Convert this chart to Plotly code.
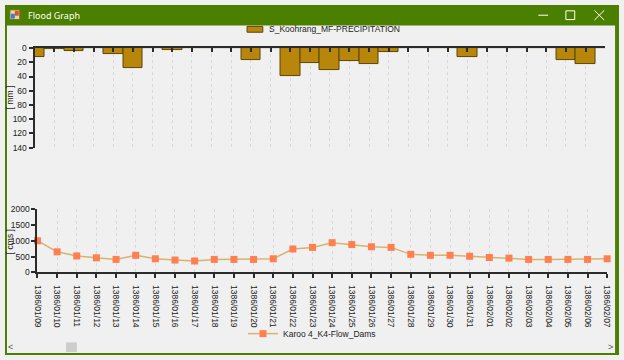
import plotly.graph_objects as go

dates = ["1386/01/09", "1386/01/10", "1386/01/11", "1386/01/12", "1386/01/13",
         "1386/01/14", "1386/01/15", "1386/01/16", "1386/01/17", "1386/01/18",
         "1386/01/19", "1386/01/20", "1386/01/21", "1386/01/22", "1386/01/23",
         "1386/01/24", "1386/01/25", "1386/01/26", "1386/01/27", "1386/01/28",
         "1386/01/29", "1386/01/30", "1386/01/31", "1386/02/01", "1386/02/02",
         "1386/02/03", "1386/02/04", "1386/02/05", "1386/02/06", "1386/02/07"]
precip = [13, 2, 4, 0, 9, 28, 0, 3, 0, 0, 0, 17, 0, 39, 21, 31, 18, 23, 6, 0,
          0, 0, 13, 0, 0, 0, 0, 17, 23, 0]
flow = [1000, 650, 520, 460, 410, 540, 430, 390, 360, 410, 410, 410, 430, 740, 790,
        940, 880, 810, 790, 570, 540, 540, 510, 470, 450, 410, 410, 410, 410, 430]
precip_ticks = [0, 20, 40, 60, 80, 100, 120, 140]
flow_ticks = [0, 500, 1000, 1500, 2000]
precip_name = "S_Koohrang_MF-PRECIPITATION"
flow_name = "Karoo 4_K4-Flow_Dams"

W, H = 624, 360
def xp(px): return px / W
def yp(py): return 1 - py / H

FONT = "Liberation Sans Narrow, Arial Narrow, Liberation Sans, Arial, sans-serif"
FS = 8.5
AX = "#2b2b2b"
GRID = "#d9d9d9"
BAR_FILL = "#b8860b"
BAR_EDGE = "#5a4608"

fig = go.Figure()
fig.add_trace(go.Bar(
    x=dates, y=precip, name=precip_name,
    marker=dict(color=BAR_FILL, line=dict(color=BAR_EDGE, width=1)),
    xaxis="x", yaxis="y", showlegend=False, width=1.0,
))
fig.add_trace(go.Scatter(
    x=dates, y=flow, name=flow_name, mode="lines+markers",
    line=dict(color="#d6b46c", width=1.5),
    marker=dict(symbol="square", size=7, color="#ff7f50"),
    xaxis="x2", yaxis="y2", legend="legend2", cliponaxis=False,
))

common_x = dict(type="category", range=[0, len(dates) - 1], showline=True,
                linecolor=AX, linewidth=2, showgrid=True, gridcolor=GRID,
                griddash="dot", gridwidth=1, tickcolor=AX, ticklen=4, tickwidth=2,
                zeroline=False, fixedrange=True)

fig.update_layout(
    width=W, height=H, margin=dict(l=0, r=0, t=0, b=0),
    paper_bgcolor="#f0f0f0", plot_bgcolor="#f0f0f0",
    font=dict(family=FONT, size=FS, color="#222"),
    bargap=0, showlegend=True,
    xaxis=dict(**common_x, domain=[xp(30), xp(610)], anchor="y", side="top",
               ticks="inside", showticklabels=False),
    yaxis=dict(domain=[yp(146.7), yp(44.3)], anchor="x", range=[140, 0],
               tickvals=precip_ticks, showline=True, linecolor=AX, linewidth=2,
               ticks="outside", ticklen=4, tickwidth=2, tickcolor=AX,
               showgrid=False, zeroline=False, fixedrange=True,
               tickfont=dict(size=FS)),
    xaxis2=dict(**common_x, domain=[xp(33), xp(612)], anchor="y2",
                ticks="outside", tickangle=90, tickfont=dict(size=FS),
                ticklabelstandoff=5),
    yaxis2=dict(domain=[yp(275), yp(210)], anchor="x2", range=[0, 2000],
                tickvals=flow_ticks, showline=True, linecolor=AX, linewidth=2,
                ticks="outside", ticklen=4, tickwidth=2, tickcolor=AX,
                showgrid=False, zeroline=False, fixedrange=True,
                tickfont=dict(size=FS)),
    legend2=dict(x=0.5, xanchor="center", y=yp(338), yanchor="middle",
                 orientation="h", bgcolor="rgba(0,0,0,0)", font=dict(size=FS)),
)

GREEN = "#4a7f00"
shapes = [
    dict(type="rect", xref="paper", yref="paper", x0=0, x1=1, y0=yp(21), y1=1,
         fillcolor=GREEN, line=dict(width=0)),
    dict(type="rect", xref="paper", yref="paper", x0=0, x1=xp(2), y0=0, y1=1,
         fillcolor=GREEN, line=dict(width=0)),
    dict(type="rect", xref="paper", yref="paper", x0=xp(620), x1=1, y0=0, y1=1,
         fillcolor=GREEN, line=dict(width=0)),
    dict(type="rect", xref="paper", yref="paper", x0=0, x1=1, y0=0, y1=yp(358),
         fillcolor=GREEN, line=dict(width=0)),
    # icon
    dict(type="rect", xref="paper", yref="paper", x0=xp(5), x1=xp(15), y0=yp(15), y1=yp(5),
         fillcolor="#e8d9a0", line=dict(color="#7a6a30", width=1)),
    dict(type="rect", xref="paper", yref="paper", x0=xp(6), x1=xp(10), y0=yp(14), y1=yp(9),
         fillcolor="#3a7fd0", line=dict(width=0)),
    dict(type="rect", xref="paper", yref="paper", x0=xp(10), x1=xp(14), y0=yp(11), y1=yp(6),
         fillcolor="#e05030", line=dict(width=0)),
    # window controls
    dict(type="line", xref="paper", yref="paper", x0=xp(542), x1=xp(552), y0=yp(10.5), y1=yp(10.5),
         line=dict(color="white", width=1)),
    dict(type="rect", xref="paper", yref="paper", x0=xp(570), x1=xp(579), y0=yp(15), y1=yp(6),
         line=dict(color="white", width=1)),
    dict(type="line", xref="paper", yref="paper", x0=xp(599), x1=xp(609), y0=yp(5.5), y1=yp(15.5),
         line=dict(color="white", width=1)),
    dict(type="line", xref="paper", yref="paper", x0=xp(599), x1=xp(609), y0=yp(15.5), y1=yp(5.5),
         line=dict(color="white", width=1)),
    # top legend swatch
    dict(type="rect", xref="paper", yref="paper", x0=xp(246), x1=xp(262), y0=yp(28), y1=yp(22),
         fillcolor=BAR_FILL, line=dict(color=BAR_EDGE, width=1)),
    # scrollbar thumb
    dict(type="rect", xref="paper", yref="paper", x0=xp(62), x1=xp(73), y0=yp(357), y1=yp(347),
         fillcolor="#cdcdcd", line=dict(width=0)),
]
fig.update_layout(shapes=shapes)

annotations = [
    dict(text="Flood Graph", x=xp(21), y=yp(10.5), xref="paper", yref="paper",
         xanchor="left", yanchor="middle", showarrow=False,
         font=dict(family="Noto Sans, DejaVu Sans, sans-serif", size=9, color="white")),
    dict(text=precip_name, x=xp(266), y=yp(25), xref="paper", yref="paper",
         xanchor="left", yanchor="middle", showarrow=False, font=dict(size=FS)),
    dict(text="[ mm ]", x=xp(5), y=yp(95), xref="paper", yref="paper", textangle=-90,
         xanchor="center", yanchor="middle", showarrow=False, font=dict(size=FS)),
    dict(text="[ cms ]", x=xp(5), y=yp(243), xref="paper", yref="paper", textangle=-90,
         xanchor="center", yanchor="middle", showarrow=False, font=dict(size=FS)),
    dict(text="<", x=xp(6), y=yp(352), xref="paper", yref="paper",
         xanchor="center", yanchor="middle", showarrow=False, font=dict(size=9, color="#555")),
    dict(text=">", x=xp(615), y=yp(352), xref="paper", yref="paper",
         xanchor="center", yanchor="middle", showarrow=False, font=dict(size=9, color="#555")),
]
fig.update_layout(annotations=annotations)

fig.write_html(
    "out.html",
    config={"displayModeBar": False},
    post_script="document.body.style.margin='0';document.body.style.padding='0';"
                "document.body.style.overflow='hidden';"
                "document.documentElement.style.overflow='hidden';",
)
